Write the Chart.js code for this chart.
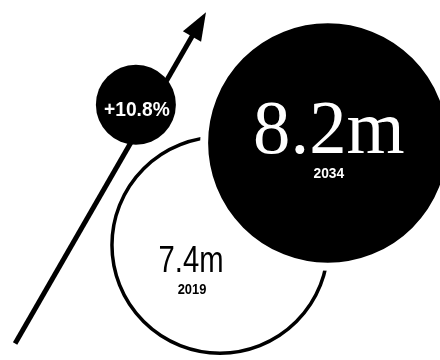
<!DOCTYPE html>
<html>
<head>
<meta charset="utf-8">
<script src="https://cdn.jsdelivr.net/npm/chart.js@4/dist/chart.umd.min.js"></script>
<style>
	html, body { margin: 0; padding: 0; background: #fff; }
	#wrap { width: 440px; height: 360px; }
</style>
</head>
<body>
<div id="wrap"><canvas id="chart" width="440" height="360"></canvas></div>
<script>
(() => {
	'use strict'

	// Data
	const years = [2019, 2034];
	const totals = [7.4, 8.2];              // millions
	const totalLabels = ['7.4m', '8.2m'];
	const growthLabel = '+10.8%';

	// Layout (in year / value space of the hidden scales)
	const growthPos = { x: 2007.3, y: 8.5 };
	const arrowFrom = { x: 1990.5, y: 6.63 };
	const arrowTo = { x: 2017.05, y: 9.225 };
	const pxPerMillion = 14.6;
	const ringWidth = 8;

	// Bubble sizes follow the value, the 2034 one gets a white ring around it
	const bubbles = years.map((yr, i) => ({
		x: yr,
		y: totals[i],
		r: totals[i] * pxPerMillion + (i === 1 ? ringWidth / 2 : 0)
	}));

	function drawLabel(ctx, text, cx, cy, font, color, squeeze) {
		ctx.save();
		ctx.translate(cx, cy);
		ctx.scale(squeeze || 1, 1);
		ctx.font = font;
		ctx.fillStyle = color;
		ctx.textAlign = 'center';
		ctx.textBaseline = 'alphabetic';
		ctx.fillText(text, 0, 0);
		ctx.restore();
	}

	const bubbleText = {
		id: 'bubbleText',
		beforeDatasetsDraw(chart) {
			// growth arrow, drawn under the bubbles
			const { ctx, scales: { x, y } } = chart;
			const x0 = x.getPixelForValue(arrowFrom.x);
			const y0 = y.getPixelForValue(arrowFrom.y);
			const x1 = x.getPixelForValue(arrowTo.x);
			const y1 = y.getPixelForValue(arrowTo.y);
			const len = Math.hypot(x1 - x0, y1 - y0);
			const ux = (x1 - x0) / len, uy = (y1 - y0) / len;
			const headLen = 28, headHalf = 10.5;
			const bx = x1 - ux * headLen, by = y1 - uy * headLen;

			ctx.save();
			ctx.strokeStyle = '#000';
			ctx.lineWidth = 5;
			ctx.lineCap = 'butt';
			ctx.beginPath();
			ctx.moveTo(x0, y0);
			ctx.lineTo(bx + ux * 4, by + uy * 4);
			ctx.stroke();

			ctx.fillStyle = '#000';
			ctx.beginPath();
			ctx.moveTo(x1, y1);
			ctx.lineTo(bx - uy * headHalf, by + ux * headHalf);
			ctx.lineTo(bx + uy * headHalf, by - ux * headHalf);
			ctx.closePath();
			ctx.fill();
			ctx.restore();
		},
		afterDatasetsDraw(chart) {
			const ctx = chart.ctx;
			const pts = chart.getDatasetMeta(0).data;
			const g = chart.getDatasetMeta(1).data[0];

			// 2019
			drawLabel(ctx, totalLabels[0], pts[0].x - 29, pts[0].y + 27, '37px "Liberation Sans", Arial, sans-serif', '#000', 0.79);
			drawLabel(ctx, String(years[0]), pts[0].x - 28, pts[0].y + 49, 'bold 15px "Liberation Sans", Arial, sans-serif', '#000', 0.86);

			// 2034
			drawLabel(ctx, totalLabels[1], pts[1].x + 1, pts[1].y + 10, '77px "Liberation Serif", "Times New Roman", serif', '#fff', 0.97);
			drawLabel(ctx, String(years[1]), pts[1].x + 1, pts[1].y + 35, 'bold 15px "Liberation Sans", Arial, sans-serif', '#fff', 0.92);

			// growth
			drawLabel(ctx, growthLabel, g.x + 1, g.y + 11, 'bold 20px "Liberation Sans", Arial, sans-serif', '#fff', 0.96);
		}
	};

	const configChart = {
		type: 'bubble',
		data: {
			datasets: [
				{
					label: 'Total',
					data: bubbles,
					backgroundColor: ['#ffffff', '#000000'],
					borderColor: ['#000000', '#ffffff'],
					borderWidth: [3.5, ringWidth],
					clip: false
				},
				{
					label: 'Growth',
					data: [{ x: growthPos.x, y: growthPos.y, r: 40 }],
					backgroundColor: '#000000',
					borderWidth: 0,
					clip: false
				}
			]
		},
		options: {
			responsive: false,
			animation: false,
			events: [],
			layout: { padding: 0, autoPadding: false },
			plugins: {
				legend: { display: false },
				tooltip: { enabled: false },
				title: { display: false }
			},
			scales: {
				x: { type: 'linear', min: 1988.4, max: 2049.6, display: false },
				y: { type: 'linear', min: 6.5, max: 9.32, display: false }
			}
		},
		plugins: [bubbleText]
	};

	const myChart = new Chart(document.getElementById('chart'), configChart);
})()
</script>
</body>
</html>
